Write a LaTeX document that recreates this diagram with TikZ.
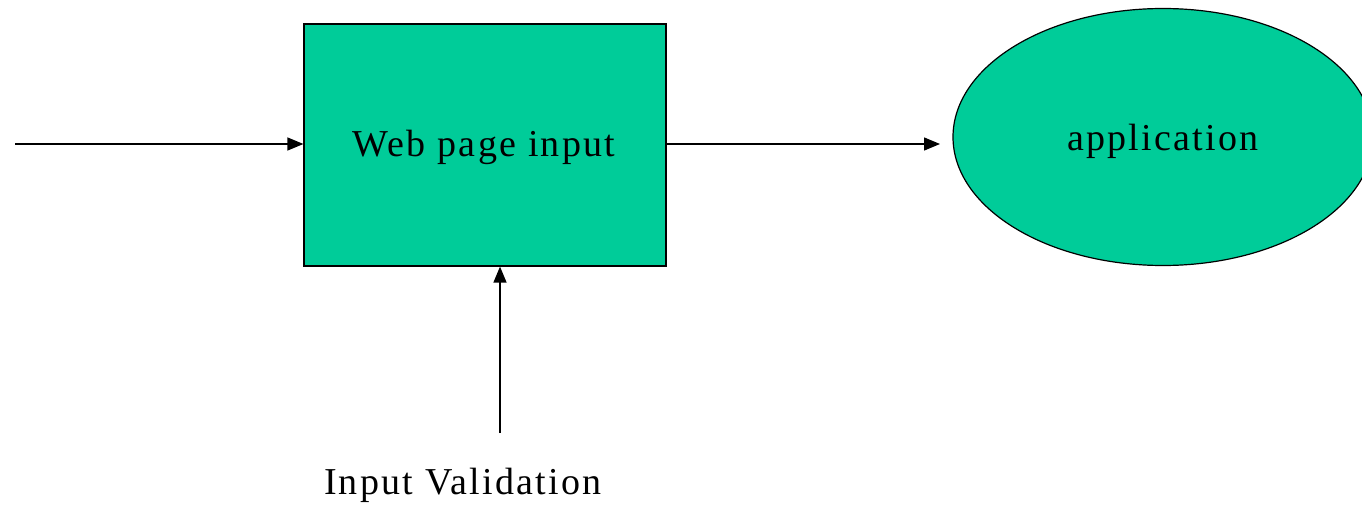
\documentclass[tikz,border=0pt]{standalone}
\usepackage{fontspec}
\setmainfont{Liberation Serif}[LetterSpace=6]
\usetikzlibrary{shapes.geometric,arrows.meta}
\definecolor{boxgreen}{HTML}{00CC99}
\begin{document}
\begin{tikzpicture}[x=1pt,y=-1pt,
  flow/.style={draw=black,line width=1.4pt,-{Triangle[length=16pt,width=13pt]}},
  lbl/.style={font=\fontsize{38}{40}\selectfont,text=black},
  shapebox/.style={draw=black,line width=1.2pt,fill=boxgreen}]
\useasboundingbox (0,0) rectangle (1362,505);
\clip (0,0) rectangle (1362,505);
\node[shapebox,minimum width=362pt,minimum height=242pt,inner sep=0pt] (web) at (485,145) {};
\node[lbl] at (484,147) {Web page input};
\node[shapebox,ellipse,minimum width=420pt,minimum height=257pt,inner sep=0pt] (app) at (1163,137) {};
\node[lbl] at (1163,141) {application};
\coordinate (start) at (15,144);
\coordinate (appin) at (940,144);
\coordinate (valtop) at (500,433);
\node[lbl] (val) at (463,485) {Input Validation};
\draw[flow] (start) -- (start -| web.west);
\draw[flow] (web.east |- appin) -- (appin);
\draw[flow] (valtop) -- (valtop |- web.south);
\end{tikzpicture}
\end{document}
